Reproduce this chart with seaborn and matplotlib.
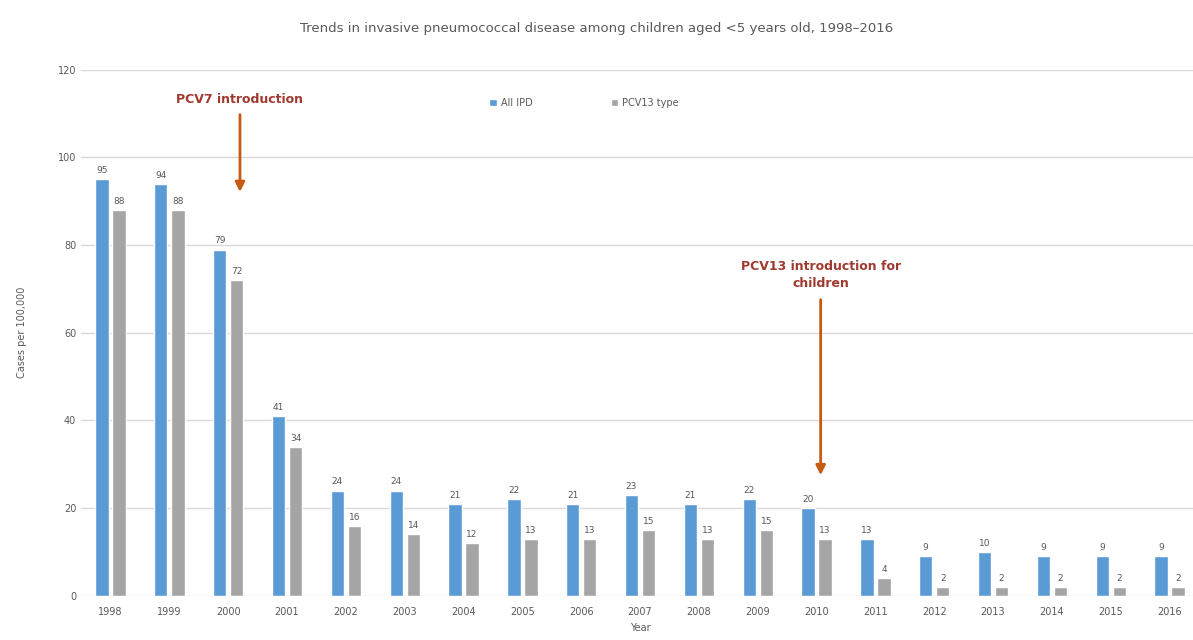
import numpy as np
import pandas as pd
import seaborn as sns
import matplotlib.pyplot as plt

# data
years = ['1998', '1999', '2000', '2001', '2002', '2003', '2004', '2005', '2006', '2007',
         '2008', '2009', '2010', '2011', '2012', '2013', '2014', '2015', '2016']
all_ipd = [95, 94, 79, 41, 24, 24, 21, 22, 21, 23, 21, 22, 20, 13, 9, 10, 9, 9, 9]
pcv13_type = [88, 88, 72, 34, 16, 14, 12, 13, 13, 15, 13, 15, 13, 4, 2, 2, 2, 2, 2]
series = ['All IPD', 'PCV13 type']
colors = ['#5B9BD5', '#A5A5A5']

df = pd.DataFrame({'Year': years * 2,
                   'Cases': all_ipd + pcv13_type,
                   'Series': [series[0]] * len(years) + [series[1]] * len(years)})

sns.set_theme(style='white')
plt.rcParams['font.family'] = ['DejaVu Sans']

fig = plt.figure(figsize=(11.93, 6.4), dpi=100)
ax = fig.add_axes([0.068, 0.069, 0.937, 0.822])

sns.barplot(data=df, x='Year', y='Cases', hue='Series', palette=colors,
            saturation=1, width=0.58, gap=0.22, ax=ax, legend=True)

for c in ax.containers:
    ax.bar_label(c, fmt='%d', padding=3, fontsize=6.5, color='#595959')

ax.set_ylim(0, 120)
ax.set_yticks(range(0, 121, 20))
ax.yaxis.grid(True, color='#D9D9D9', linewidth=1)
ax.set_axisbelow(True)
sns.despine(ax=ax, left=True, bottom=True)
ax.tick_params(axis='both', length=0, labelsize=7, labelcolor='#595959')
ax.tick_params(axis='x', pad=8)
ax.set_ylabel('Cases per 100,000', fontsize=7, color='#595959', labelpad=22)
ax.set_xlabel('Year', fontsize=7, color='#595959', labelpad=4)

ax.legend(loc='center', bbox_to_anchor=(0.45, 0.937), ncol=2, frameon=False,
          fontsize=7, labelcolor='#595959', handlelength=0.8, handleheight=0.8,
          columnspacing=8, handletextpad=0.4)

fig.text(0.5, 0.955, 'Trends in invasive pneumococcal disease among children aged <5 years old, 1998\u20132016',
         ha='center', va='center', fontsize=9.5, color='#595959')

arrow = dict(arrowstyle='-|>', color='#C55A11', lw=2, mutation_scale=14)
ax.annotate('', xy=(2.2, 91.5), xytext=(2.2, 110.4), arrowprops=arrow)
ax.text(2.2, 113.2, 'PCV7 introduction', ha='center', va='center', fontsize=9,
        fontweight='bold', color='#A0392E')
ax.annotate('', xy=(12.07, 26.9), xytext=(12.07, 68.2), arrowprops=arrow)
ax.text(12.07, 73.2, 'PCV13 introduction for\nchildren', ha='center', va='center',
        fontsize=9, fontweight='bold', color='#A0392E', linespacing=1.4)

fig.savefig('out.png', dpi=100)
